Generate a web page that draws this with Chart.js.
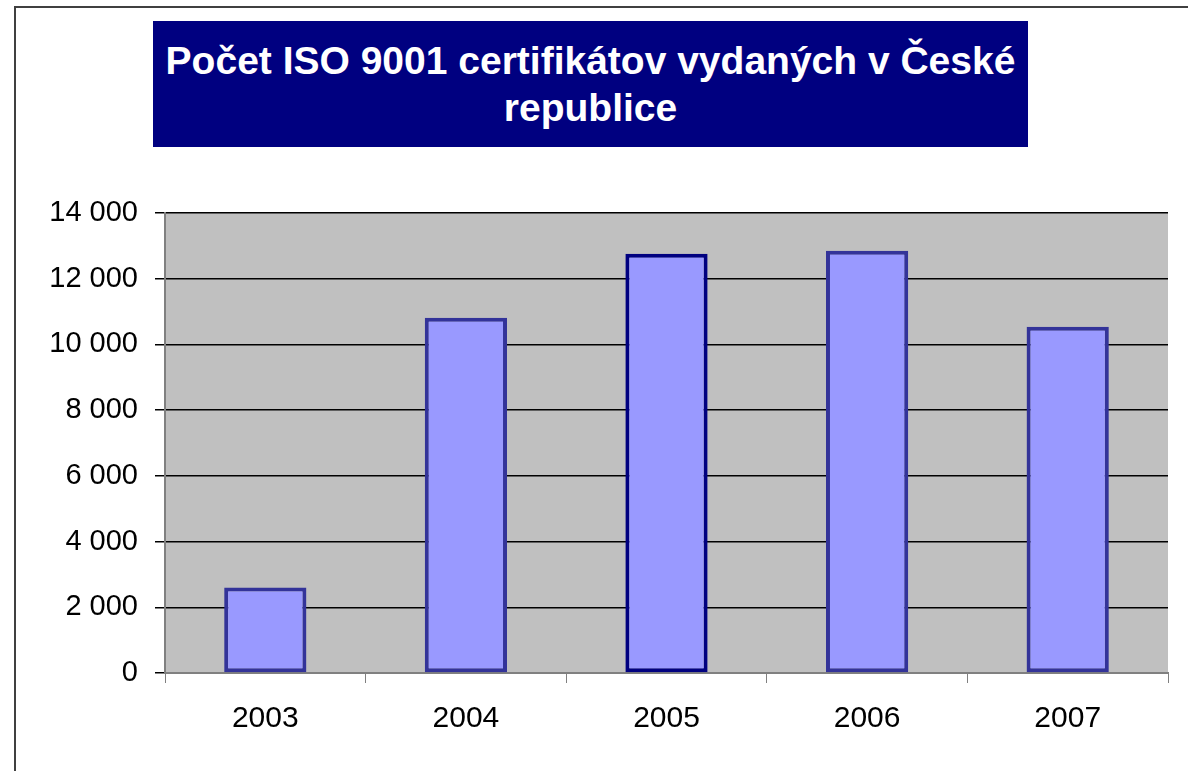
<!DOCTYPE html>
<html>
<head>
<meta charset="utf-8">
<script src="https://cdn.jsdelivr.net/npm/chart.js@4/dist/chart.umd.min.js"></script>
<style>
  html, body { margin: 0; padding: 0; background: #fff; overflow: hidden; }
  #wrap { position: relative; width: 1188px; height: 771px; }
  #frame {
    position: absolute; left: 14px; top: 6px; width: 1300px; height: 900px;
    border-left: 2px solid #404040; border-top: 2px solid #404040;
  }
  #title {
    position: absolute; left: 153px; top: 21px; width: 875px; height: 126px;
    background: #000080; color: #fff;
    font-family: "Liberation Sans", Arial, sans-serif; font-weight: bold;
    font-size: 39px; line-height: 47px; text-align: center;
    display: flex; align-items: center; justify-content: center;
  }
  #chartBox { position: absolute; left: 0; top: 0; width: 1188px; height: 771px; }
</style>
</head>
<body>
<div id="wrap">
  <div id="frame"></div>
  <div id="chartBox"><canvas id="isoChart" width="1188" height="771"></canvas></div>
  <div id="title">Počet ISO 9001 certifikátov vydaných v České<br>republice</div>
</div>
<script>
const years = ["2003", "2004", "2005", "2006", "2007"];
const certificates = [2600, 10810, 12760, 12850, 10540];
const borderColors = ["#333399", "#333399", "#000080", "#333399", "#333399"];
const yTicks = [0, 2000, 4000, 6000, 8000, 10000, 12000, 14000];

// grey plot area behind the bars
const plotBackground = {
  id: "plotBackground",
  beforeDraw(chart) {
    const { ctx, chartArea } = chart;
    ctx.save();
    ctx.fillStyle = "#C0C0C0";
    ctx.fillRect(chartArea.left, chartArea.top, chartArea.right - chartArea.left, chartArea.bottom - chartArea.top);
    ctx.restore();
  },
};

window.onload = function () {
  const ctx = document.getElementById("isoChart").getContext("2d");

  new Chart(ctx, {
    type: "bar",
    data: {
      labels: years,
      datasets: [
        {
          data: certificates,
          backgroundColor: "#9999FF",
          borderColor: borderColors,
          borderWidth: 4,
          borderSkipped: false,
          categoryPercentage: 1,
          barPercentage: 0.41,
        },
      ],
    },
    options: {
      responsive: false,
      animation: false,
      layout: { padding: { top: 213, right: 20, left: 0, bottom: 0 } },
      plugins: {
        legend: { display: false },
        tooltip: { enabled: false },
      },
      scales: {
        x: {
          afterFit: (scale) => { scale.height = 98; },
          grid: {
            drawOnChartArea: false,
            drawTicks: true,
            tickLength: 10,
            color: "#808080",
          },
          border: { color: "#808080", width: 2 },
          ticks: {
            color: "#000",
            padding: 18,
            font: { family: "Liberation Sans", size: 30 },
          },
        },
        y: {
          min: 0,
          max: 14000,
          afterFit: (scale) => { scale.width = 165; },
          afterBuildTicks: (scale) => {
            scale.ticks = yTicks.map((v) => ({ value: v }));
          },
          grid: {
            color: "#000",
            lineWidth: 1.5,
            tickLength: 10,
          },
          border: { color: "#808080", width: 2 },
          ticks: {
            color: "#000",
            padding: 17,
            font: { family: "Liberation Sans", size: 29 },
            callback: function (value) {
              return String(value).replace(/\B(?=(\d{3})+(?!\d))/g, " ");
            },
          },
        },
      },
    },
    plugins: [plotBackground],
  });
};
</script>
</body>
</html>
